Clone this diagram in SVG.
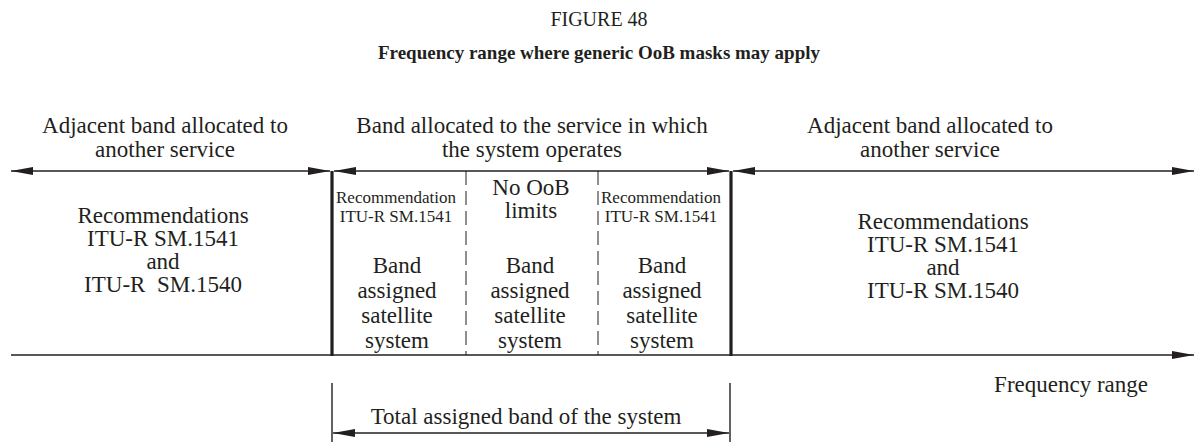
<svg xmlns="http://www.w3.org/2000/svg" width="1198" height="442" viewBox="0 0 1198 442">
<style>
text{font-family:"Liberation Serif","Times New Roman",serif;fill:#231f20;text-anchor:middle}
.big{font-size:23px}
.sm{font-size:17px}
.ttl{font-size:20px}
.bold{font-size:19px;font-weight:bold}
.ln{stroke:#231f20;stroke-width:1.4;fill:none}
.thick{stroke:#231f20;stroke-width:3.2;fill:none}
.dash{stroke:#231f20;stroke-width:1;stroke-dasharray:14 6;fill:none}
</style>
<defs>
<marker id="ah" viewBox="0 0 22 8" refX="22" refY="4" markerWidth="22" markerHeight="8" markerUnits="userSpaceOnUse" orient="auto-start-reverse">
<path d="M0,0 L22,4 L0,8 Z" fill="#231f20"/>
</marker>
</defs>
<g id="titles">
<text class="ttl" x="599" y="26">FIGURE 48</text>
<text class="bold" x="599" y="59">Frequency range where generic OoB masks may apply</text>
</g>
<g id="connectors">
<line class="ln" x1="11" y1="171" x2="330" y2="171" marker-start="url(#ah)" marker-end="url(#ah)"/>
<line class="ln" x1="334" y1="171" x2="729" y2="171" marker-start="url(#ah)" marker-end="url(#ah)"/>
<line class="ln" x1="733" y1="171" x2="1194" y2="171" marker-start="url(#ah)" marker-end="url(#ah)"/>
<line class="ln" x1="11" y1="355" x2="1194" y2="355" marker-end="url(#ah)"/>
<line class="thick" x1="332" y1="171" x2="332" y2="356"/>
<line class="thick" x1="731" y1="171" x2="731" y2="356"/>
<line class="dash" x1="466" y1="171" x2="466" y2="355"/>
<line class="dash" x1="598" y1="171" x2="598" y2="355"/>
<line class="ln" x1="332" y1="383" x2="332" y2="442" stroke-width="1"/>
<line class="ln" x1="730" y1="383" x2="730" y2="442" stroke-width="1"/>
<line class="ln" x1="333" y1="433" x2="729" y2="433" marker-start="url(#ah)" marker-end="url(#ah)"/>
</g>
<g id="hdr-left">
<text class="big" x="165" y="133">Adjacent band allocated to</text>
<text class="big" x="165" y="157">another service</text>
</g>
<g id="hdr-mid">
<text class="big" x="532" y="133">Band allocated to the service in which</text>
<text class="big" x="532" y="157">the system operates</text>
</g>
<g id="hdr-right">
<text class="big" x="930" y="133">Adjacent band allocated to</text>
<text class="big" x="930" y="157">another service</text>
</g>
<g id="left-block">
<text class="big" x="163" y="223">Recommendations</text>
<text class="big" x="163" y="246">ITU-R SM.1541</text>
<text class="big" x="163" y="269">and</text>
<text class="big" x="163" y="292" xml:space="preserve">ITU-R  SM.1540</text>
</g>
<g id="right-block">
<text class="big" x="943" y="229">Recommendations</text>
<text class="big" x="943" y="252">ITU-R SM.1541</text>
<text class="big" x="943" y="275">and</text>
<text class="big" x="943" y="298">ITU-R  SM.1540</text>
</g>
<g id="col1">
<text class="sm" x="396" y="203">Recommendation</text>
<text class="sm" x="396" y="222">ITU-R SM.1541</text>
<text class="big" x="397" y="273">Band</text>
<text class="big" x="397" y="298">assigned</text>
<text class="big" x="397" y="323">satellite</text>
<text class="big" x="397" y="348">system</text>
</g>
<g id="col2">
<text class="big" x="531" y="195">No OoB</text>
<text class="big" x="531" y="218">limits</text>
<text class="big" x="530" y="273">Band</text>
<text class="big" x="530" y="298">assigned</text>
<text class="big" x="530" y="323">satellite</text>
<text class="big" x="530" y="348">system</text>
</g>
<g id="col3">
<text class="sm" x="661" y="203">Recommendation</text>
<text class="sm" x="661" y="222">ITU-R SM.1541</text>
<text class="big" x="662" y="273">Band</text>
<text class="big" x="662" y="298">assigned</text>
<text class="big" x="662" y="323">satellite</text>
<text class="big" x="662" y="348">system</text>
</g>
<g id="freq-label">
<text class="big" x="1148" y="392" style="text-anchor:end">Frequency range</text>
</g>
<g id="total-label">
<text class="big" x="526" y="424">Total assigned band of the system</text>
</g>
</svg>
